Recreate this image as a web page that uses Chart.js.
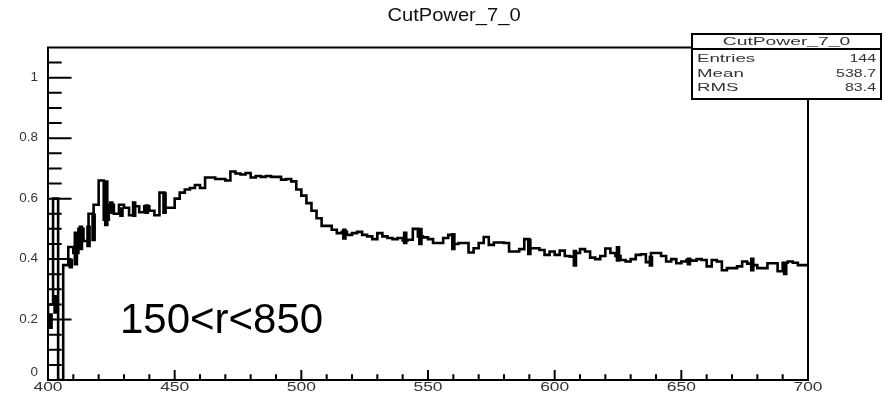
<!DOCTYPE html>
<html>
<head>
<meta charset="utf-8">
<script src="https://cdn.jsdelivr.net/npm/chart.js@4.4.1/dist/chart.umd.min.js"></script>
<style>
  html, body { margin: 0; padding: 0; background: #fff; }
  #wrap { width: 885px; height: 395px; }
</style>
</head>
<body>
<div id="wrap"><canvas id="histo" width="885" height="395"></canvas></div>
<script>
// Histogram CutPower_7_0: 150 bins of width 2 between 400 and 700
const xMin = 400;
const xMax = 700;
const binWidth = 2;
const binValues = [
    0.18, 0.25, 0.60, 0.00, 0.38, 0.44, 0.42, 0.50, 0.46, 0.55,
    0.58, 0.66, 0.53, 0.58, 0.55, 0.58, 0.57, 0.545, 0.575, 0.555,
    0.575, 0.56, 0.545, 0.62, 0.57, 0.57, 0.60, 0.62, 0.63, 0.635,
    0.645, 0.635, 0.67, 0.67, 0.665, 0.665, 0.66, 0.69, 0.683, 0.68,
    0.685, 0.67, 0.675, 0.672, 0.675, 0.672, 0.672, 0.663, 0.665, 0.657,
    0.63, 0.61, 0.585, 0.56, 0.535, 0.51, 0.51, 0.497, 0.486, 0.49,
    0.48, 0.486, 0.49, 0.48, 0.475, 0.466, 0.486, 0.475, 0.47, 0.466,
    0.47, 0.462, 0.464, 0.50, 0.475, 0.472, 0.466, 0.453, 0.453, 0.47,
    0.48, 0.45, 0.453, 0.453, 0.422, 0.436, 0.453, 0.473, 0.447, 0.455,
    0.455, 0.453, 0.425, 0.425, 0.433, 0.466, 0.436, 0.436, 0.43, 0.414,
    0.425, 0.414, 0.428, 0.41, 0.408, 0.42, 0.433, 0.425, 0.405, 0.40,
    0.41, 0.435, 0.42, 0.41, 0.397, 0.392, 0.40, 0.414, 0.416, 0.39,
    0.42, 0.42, 0.41, 0.392, 0.40, 0.386, 0.392, 0.397, 0.395, 0.40,
    0.397, 0.376, 0.397, 0.392, 0.363, 0.37, 0.37, 0.376, 0.392, 0.385,
    0.38, 0.37, 0.37, 0.386, 0.386, 0.36, 0.388, 0.392, 0.388, 0.38
];

// short vertical spreads where neighbouring entries jitter
const spreadX = [401, 403, 409, 411, 413, 416, 418, 423, 425, 429, 434, 439, 446,
    517, 541, 547, 560, 590, 608, 625, 638, 653, 678, 691];
const spreadLow = [0.17, 0.22, 0.37, 0.38, 0.43, 0.44, 0.46, 0.51, 0.55, 0.54, 0.54, 0.55, 0.55,
    0.465, 0.45, 0.447, 0.43, 0.414, 0.376, 0.392, 0.376, 0.38, 0.36, 0.348];
const spreadHigh = [0.22, 0.28, 0.40, 0.49, 0.51, 0.51, 0.55, 0.66, 0.59, 0.57, 0.59, 0.58, 0.62,
    0.50, 0.49, 0.503, 0.485, 0.466, 0.43, 0.442, 0.41, 0.404, 0.404, 0.386];

const xTickLabels = [400, 450, 500, 550, 600, 650, 700];
const xMinorTicks = [410, 420, 430, 440, 460, 470, 480, 490, 510, 520, 530, 540,
    560, 570, 580, 590, 610, 620, 630, 640, 660, 670, 680, 690];
const yTickLabels = [0, 0.2, 0.4, 0.6, 0.8, 1];
const yMinorTicks = [0.05, 0.1, 0.15, 0.25, 0.3, 0.35, 0.45, 0.5, 0.55, 0.65, 0.7, 0.75,
    0.85, 0.9, 0.95, 1.05];
const yMax = 1.1;

const histTitle = 'CutPower_7_0';
const statNames = ['Entries', 'Mean', 'RMS'];
const statValues = ['144', '538.7', '83.4'];
const cutLabel = '150<r<850';

// step points at the left edge of every bin, closing at xMax
const histPoints = binValues.map((v, i) => ({ x: xMin + i * binWidth, y: v }));
histPoints.push({ x: xMax, y: binValues[binValues.length - 1] });
const spreadBars = spreadX.map((x, i) => ({ x: x, y: [spreadLow[i], spreadHigh[i]] }));

const FONT = '"Liberation Sans", Arial, Helvetica, sans-serif';

// stretched text, like the scaled-up ROOT bitmap fonts
function wideText(ctx, text, x, y, sx, align) {
    ctx.save();
    ctx.translate(x, y);
    ctx.scale(sx, 1);
    ctx.textAlign = align;
    ctx.fillText(text, 0, 0);
    ctx.restore();
}

// ROOT style frame, inner ticks, labels, title, stats box and cut label
const rootDecor = {
    id: 'rootDecor',
    afterDatasetsDraw(chart) {
        const { ctx, chartArea: a, scales } = chart;
        const xs = scales.x, ys = scales.y;
        const h = a.bottom - a.top, w = a.right - a.left;
        ctx.save();
        ctx.strokeStyle = '#000';
        ctx.lineWidth = 2;
        ctx.strokeRect(a.left, a.top, w, h);

        ctx.beginPath();
        xTickLabels.forEach(v => {
            const px = xs.getPixelForValue(v);
            ctx.moveTo(px, a.bottom); ctx.lineTo(px, a.bottom - h * 0.03);
        });
        xMinorTicks.forEach(v => {
            const px = xs.getPixelForValue(v);
            ctx.moveTo(px, a.bottom); ctx.lineTo(px, a.bottom - h * 0.017);
        });
        yTickLabels.forEach(v => {
            const py = ys.getPixelForValue(v);
            ctx.moveTo(a.left, py); ctx.lineTo(a.left + w * 0.031, py);
        });
        yMinorTicks.forEach(v => {
            const py = ys.getPixelForValue(v);
            ctx.moveTo(a.left, py); ctx.lineTo(a.left + w * 0.018, py);
        });
        ctx.stroke();

        // tick labels
        ctx.fillStyle = '#333';
        ctx.font = '12px ' + FONT;
        ctx.textBaseline = 'middle';
        xTickLabels.forEach(v => {
            wideText(ctx, String(v), xs.getPixelForValue(v), 388, 1.45, 'center');
        });
        yTickLabels.forEach(v => {
            const py = v === 0 ? ys.getPixelForValue(v) - 7 : ys.getPixelForValue(v);
            wideText(ctx, String(v), a.left - 10, py, 1.12, 'right');
        });

        // title
        ctx.fillStyle = '#111';
        ctx.font = '19px ' + FONT;
        wideText(ctx, histTitle, 454, 16, 1.06, 'center');

        // stats box
        const bx = 692, by = 34, bw = 189, bh = 65;
        ctx.fillStyle = '#fff';
        ctx.fillRect(bx, by, bw, bh);
        ctx.lineWidth = 2;
        ctx.strokeRect(bx, by, bw, bh);
        ctx.beginPath();
        ctx.moveTo(bx, by + 15); ctx.lineTo(bx + bw, by + 15);
        ctx.stroke();
        ctx.fillStyle = '#333';
        ctx.font = '11px ' + FONT;
        wideText(ctx, histTitle, bx + bw / 2, by + 8, 1.75, 'center');
        statNames.forEach((name, i) => {
            const ty = by + 25 + i * 14.5;
            wideText(ctx, name, bx + 5, ty, 1.7, 'left');
            wideText(ctx, statValues[i], bx + bw - 5, ty, 1.45, 'right');
        });

        // cut label
        ctx.fillStyle = '#000';
        ctx.font = '42px ' + FONT;
        ctx.textAlign = 'left';
        ctx.textBaseline = 'alphabetic';
        ctx.fillText(cutLabel, 120, 333);
        ctx.restore();
    }
};

new Chart(document.getElementById('histo'), {
    data: {
        datasets: [{
            type: 'line',
            label: histTitle,
            data: histPoints,
            stepped: 'after',
            borderColor: '#000',
            borderWidth: 2.6,
            pointRadius: 0,
            fill: false
        }, {
            type: 'bar',
            label: 'spread',
            data: spreadBars,
            backgroundColor: '#000',
            borderWidth: 0,
            barThickness: 4
        }]
    },
    options: {
        responsive: false,
        animation: false,
        devicePixelRatio: 1,
        layout: { padding: { left: 0, right: 77, top: 47.5, bottom: 0 } },
        plugins: {
            legend: { display: false },
            title: { display: false },
            tooltip: { enabled: false }
        },
        scales: {
            x: {
                type: 'linear',
                min: xMin,
                max: xMax,
                offset: false,
                border: { display: false },
                grid: { display: false, drawTicks: false },
                afterBuildTicks: s => { s.ticks = xTickLabels.map(v => ({ value: v })); },
                afterFit: s => { s.height = 15; },
                ticks: { display: false }
            },
            y: {
                min: 0,
                max: yMax,
                border: { display: false },
                grid: { display: false, drawTicks: false },
                afterBuildTicks: s => { s.ticks = yTickLabels.map(v => ({ value: v })); },
                afterFit: s => { s.width = 48; },
                ticks: { display: false }
            }
        }
    },
    plugins: [rootDecor]
});
</script>
</body>
</html>
